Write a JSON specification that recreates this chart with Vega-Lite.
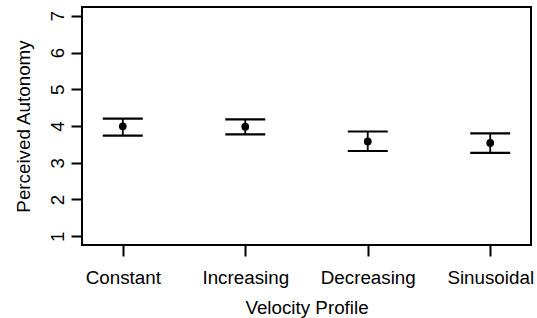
{
  "$schema": "https://vega.github.io/schema/vega-lite/v6.json",
  "autosize": "none",
  "width": 449,
  "height": 238,
  "padding": {"left": 82, "top": 7, "right": 6, "bottom": 73},
  "background": "white",
  "config": {
    "view": {"stroke": "black", "strokeWidth": 2},
    "font": "Liberation Sans",
    "axisY": {
      "values": [1, 2, 3, 4, 5, 6, 7],
      "domain": false,
      "grid": false,
      "tickColor": "black",
      "tickSize": 11,
      "tickWidth": 2,
      "labelAngle": 270,
      "labelAlign": "center",
      "labelBaseline": "alphabetic",
      "labelPadding": 8,
      "labelOverlap": false,
      "labelColor": "black",
      "labelFontSize": 18.8,
      "labelFont": "Liberation Sans",
      "titleColor": "black",
      "titleFont": "Liberation Sans",
      "titleFontSize": 18.8,
      "titleFontWeight": "normal",
      "titleAngle": 270,
      "titleAlign": "center",
      "titleBaseline": "alphabetic",
      "titleX": -53,
      "titleY": 119
    }
  },
  "data": {
    "values": [
      {"profile": "Constant", "mean": 3.99, "lower": 3.74, "upper": 4.2},
      {"profile": "Increasing", "mean": 3.98, "lower": 3.77, "upper": 4.18},
      {"profile": "Decreasing", "mean": 3.58, "lower": 3.32, "upper": 3.85},
      {"profile": "Sinusoidal", "mean": 3.54, "lower": 3.27, "upper": 3.8}
    ]
  },
  "encoding": {
    "x": {
      "field": "profile",
      "type": "nominal",
      "sort": ["Constant", "Increasing", "Decreasing", "Sinusoidal"],
      "scale": {"type": "point", "padding": 0.333},
      "axis": {
        "title": "Velocity Profile",
        "domain": false,
        "grid": false,
        "tickColor": "black",
        "tickSize": 11,
        "tickWidth": 2,
        "labelAngle": 0,
        "labelColor": "black",
        "labelFontSize": 18.8,
        "labelFont": "Liberation Sans",
        "labelBaseline": "alphabetic",
        "labelPadding": 27,
        "labelOverlap": false,
        "titleColor": "black",
        "titleFont": "Liberation Sans",
        "titleFontSize": 18.8,
        "titleFontWeight": "normal",
        "titleBaseline": "alphabetic",
        "titleY": 68
      }
    }
  },
  "layer": [
    {
      "mark": {"type": "rule", "color": "black", "strokeWidth": 1.8},
      "encoding": {
        "y": {
          "field": "lower",
          "type": "quantitative",
          "title": "Perceived Autonomy",
          "scale": {"domain": [0.76, 7.24], "nice": false, "zero": false},
          "axis": {"values": [1, 2, 3, 4, 5, 6, 7], "labelOverlap": false, "tickCount": 7, "labelFontSize": 18.8, "labelFont": "Liberation Sans", "labelAngle": 270, "labelPadding": 8}
        },
        "y2": {"field": "upper"}
      }
    },
    {
      "mark": {"type": "tick", "color": "black", "size": 40, "thickness": 2.2, "opacity": 1},
      "encoding": {"y": {"field": "upper", "type": "quantitative", "title": "Perceived Autonomy", "axis": {"values": [1, 2, 3, 4, 5, 6, 7], "labelOverlap": false, "tickCount": 7, "labelFontSize": 18.8, "labelFont": "Liberation Sans", "labelAngle": 270, "labelPadding": 8}}}
    },
    {
      "mark": {"type": "tick", "color": "black", "size": 40, "thickness": 2.2, "opacity": 1},
      "encoding": {"y": {"field": "lower", "type": "quantitative", "title": "Perceived Autonomy", "axis": {"values": [1, 2, 3, 4, 5, 6, 7], "labelOverlap": false, "tickCount": 7, "labelFontSize": 18.8, "labelFont": "Liberation Sans", "labelAngle": 270, "labelPadding": 8}}}
    },
    {
      "mark": {"type": "point", "shape": "circle", "filled": true, "color": "black", "size": 60, "opacity": 1},
      "encoding": {"y": {"field": "mean", "type": "quantitative", "title": "Perceived Autonomy", "axis": {"values": [1, 2, 3, 4, 5, 6, 7], "labelOverlap": false, "tickCount": 7, "labelFontSize": 18.8, "labelFont": "Liberation Sans", "labelAngle": 270, "labelPadding": 8}}}
    }
  ]
}
